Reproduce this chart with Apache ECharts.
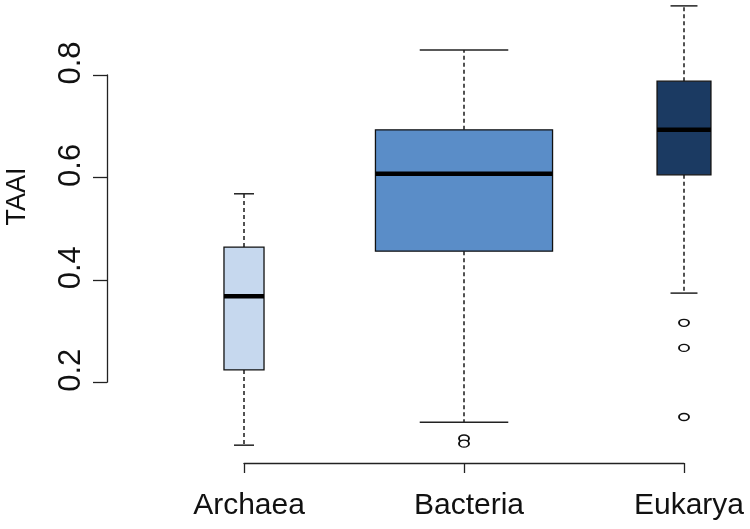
<!DOCTYPE html>
<html>
<head>
<meta charset="utf-8">
<script src="https://cdn.jsdelivr.net/npm/echarts@6/dist/echarts.min.js"></script>
<style>
  html, body { margin: 0; padding: 0; background: #fff; }
  #chart { width: 750px; height: 529px; }
</style>
</head>
<body>
<div id="chart"></div>
<script>
// data
const categories = ['Archaea', 'Bacteria', 'Eukarya'];
const whiskerLow = [0.077, 0.122, 0.374];
const q1 = [0.224, 0.456, 0.605];
const median = [0.368, 0.607, 0.693];
const q3 = [0.464, 0.693, 0.788];
const whiskerHigh = [0.568, 0.849, 0.935];
const outliers = [[1, 0.090], [1, 0.080], [2, 0.316], [2, 0.267], [2, 0.132]];
const yTicks = [0.2, 0.4, 0.6, 0.8];

// box widths relative to category spacing (varwidth), fills
const boxWidth = [0.182, 0.805, 0.245];
const boxColors = ['#c6d8ee', '#5a8dc8', '#1b3a62'];

const font = "'Liberation Sans', Arial, sans-serif";
const ink = '#111';

// pixel layout: 0.8 sits at y=75, 512px per unit, x axis line at y=463
const pxPerUnit = 512;
const yTopTick = 75;
const xAxisY = 463;
const yMin = 0.8 - (xAxisY - yTopTick) / pxPerUnit;
const yMax = 0.8 + yTopTick / pxPerUnit;

const boxData = categories.map((c, i) => [i, whiskerLow[i], q1[i], median[i], q3[i], whiskerHigh[i]]);

function renderItem(params, api) {
  const i = api.value(0);
  const band = api.size([1, 0])[0];
  const w = boxWidth[i] * band;
  const cap = w / 2;
  const pLo = api.coord([i, api.value(1)]);
  const pQ1 = api.coord([i, api.value(2)]);
  const pMed = api.coord([i, api.value(3)]);
  const pQ3 = api.coord([i, api.value(4)]);
  const pHi = api.coord([i, api.value(5)]);
  const x = pMed[0];
  const dashed = { stroke: '#1a1a1a', lineWidth: 1.5, lineDash: [4, 3] };
  const solid = { stroke: '#222', lineWidth: 1.5 };
  return {
    type: 'group',
    children: [
      { type: 'line', shape: { x1: x, y1: pQ3[1], x2: x, y2: pHi[1] }, style: dashed },
      { type: 'line', shape: { x1: x, y1: pQ1[1], x2: x, y2: pLo[1] }, style: dashed },
      { type: 'line', shape: { x1: x - cap / 2, y1: pHi[1], x2: x + cap / 2, y2: pHi[1] }, style: solid },
      { type: 'line', shape: { x1: x - cap / 2, y1: pLo[1], x2: x + cap / 2, y2: pLo[1] }, style: solid },
      { type: 'rect', shape: { x: x - w / 2, y: pQ3[1], width: w, height: pQ1[1] - pQ3[1] },
        style: { fill: boxColors[i], stroke: ink, lineWidth: 1.3 } },
      { type: 'line', shape: { x1: x - w / 2, y1: pMed[1], x2: x + w / 2, y2: pMed[1] },
        style: { stroke: '#000', lineWidth: 4.5 } }
    ]
  };
}

const chart = echarts.init(document.getElementById('chart'));

chart.setOption({
  animation: false,
  backgroundColor: '#fff',
  grid: [
    // data area, x axis drawn at its bottom
    { left: 244, width: 440, top: 0, height: xAxisY },
    // visible y axis only spanning the ticks
    { left: 107, width: 100, top: yTopTick, height: (yTicks[3] - yTicks[0]) * pxPerUnit }
  ],
  xAxis: [
    {
      gridIndex: 0,
      type: 'category',
      data: categories,
      boundaryGap: false,
      axisLine: { lineStyle: { color: '#222', width: 1.3 } },
      axisTick: { length: 10, lineStyle: { color: '#222', width: 1.3 } },
      axisLabel: { color: ink, fontFamily: font, fontSize: 30, margin: 28, padding: [0, 0, 0, 10] },
      splitLine: { show: false }
    },
    { gridIndex: 1, type: 'value', show: false }
  ],
  yAxis: [
    { gridIndex: 0, type: 'value', min: yMin, max: yMax, show: false },
    {
      gridIndex: 1,
      type: 'value',
      min: yTicks[0],
      max: yTicks[yTicks.length - 1],
      interval: yTicks[1] - yTicks[0],
      name: 'TAAI',
      nameLocation: 'middle',
      nameRotate: 90,
      nameGap: 76,
      nameTextStyle: { color: ink, fontFamily: font, fontSize: 27, padding: [0, 0, 0, 64] },
      axisLine: { show: true, lineStyle: { color: '#222', width: 1.3 } },
      axisTick: { show: true, length: 14, lineStyle: { color: '#222', width: 1.3 } },
      axisLabel: {
        rotate: 90, color: ink, fontFamily: font, fontSize: 31, margin: 20,
        padding: [0, 0, 0, 24],
        formatter: v => v.toFixed(1)
      },
      splitLine: { show: false }
    }
  ],
  series: [
    {
      type: 'custom',
      xAxisIndex: 0,
      yAxisIndex: 0,
      renderItem: renderItem,
      encode: { x: 0, y: [1, 2, 3, 4, 5] },
      data: boxData
    },
    {
      type: 'scatter',
      xAxisIndex: 0,
      yAxisIndex: 0,
      symbol: 'path://M0,5A5,5,0,1,0,10,5A5,5,0,1,0,0,5Z',
      symbolSize: [10, 7],
      itemStyle: { color: '#fff', borderColor: ink, borderWidth: 1.6, opacity: 1 },
      data: outliers
    }
  ]
});
</script>
</body>
</html>
